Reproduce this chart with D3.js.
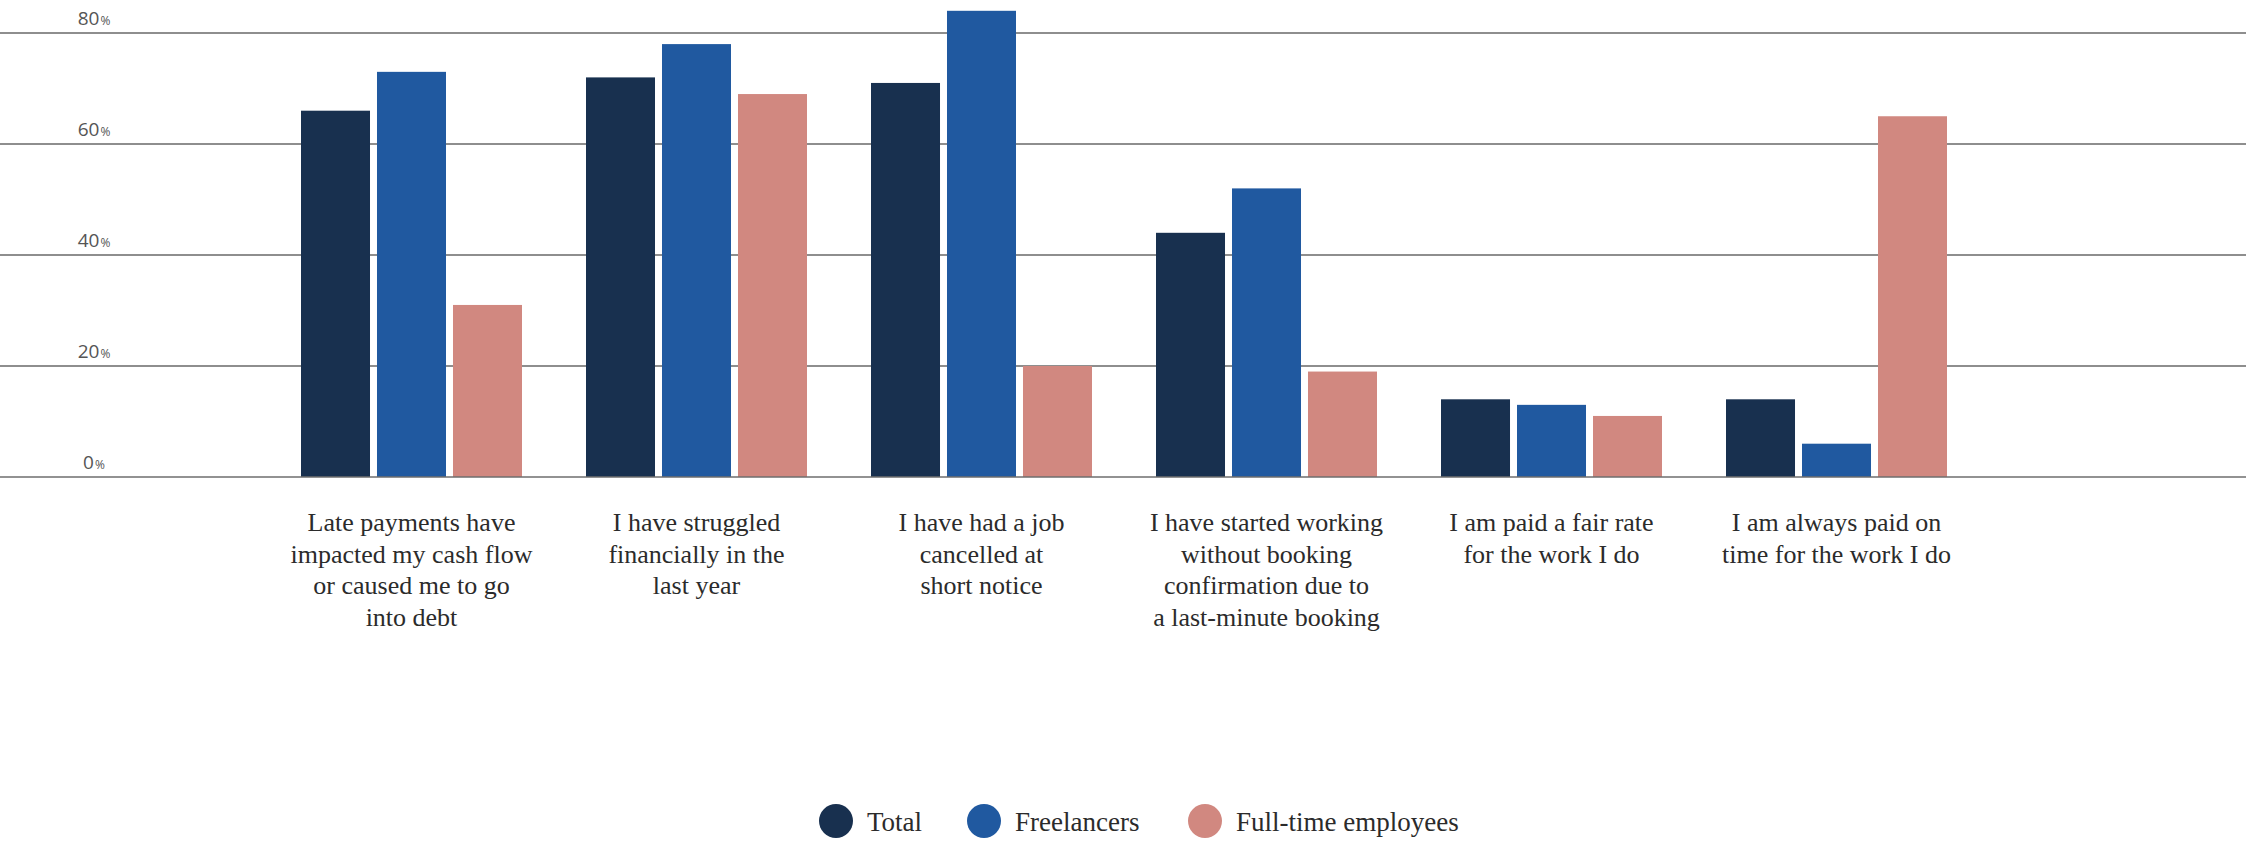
<!DOCTYPE html>
<html>
<head>
<meta charset="utf-8">
<script src="https://cdn.jsdelivr.net/npm/d3@7"></script>
<style>
  html, body { margin: 0; padding: 0; background: #ffffff; }
  svg { display: block; }
</style>
</head>
<body>
<svg id="chart" width="2246" height="841"></svg>
<script>
// Survey statements, each shown on the x axis as wrapped lines
const categories = [
  "Late payments",
  "Struggled financially",
  "Job cancelled",
  "Started without confirmation",
  "Paid a fair rate",
  "Always paid on time"
];
const categoryLines = [
  ["Late payments have", "impacted my cash flow", "or caused me to go", "into debt"],
  ["I have struggled", "financially in the", "last year"],
  ["I have had a job", "cancelled at", "short notice"],
  ["I have started working", "without booking", "confirmation due to", "a last-minute booking"],
  ["I am paid a fair rate", "for the work I do"],
  ["I am always paid on", "time for the work I do"]
];

const seriesNames = ["Total", "Freelancers", "Full-time employees"];
const seriesColors = ["#18304f", "#2059a0", "#d18880"];

// Share of respondents agreeing (%)
const totalValues      = [66, 72, 71, 44, 14, 14];
const freelancerValues = [73, 78, 84, 52, 13, 6];
const fullTimeValues   = [31, 69, 20, 19, 11, 65];
const seriesValues = [totalValues, freelancerValues, fullTimeValues];

const yTicks = [0, 20, 40, 60, 80];

const W = 2246, H = 841;
const svg = d3.select("#chart");

const y = d3.scaleLinear().domain([0, 80]).range([477, 33]);

const x0 = d3.scaleBand()
  .domain(categories)
  .range([301, 1947])
  .paddingInner(0.2246)
  .paddingOuter(0);

const x1 = d3.scaleBand()
  .domain(seriesNames)
  .range([0, x0.bandwidth()])
  .paddingInner(0.092)
  .paddingOuter(0);

// Horizontal gridlines (behind bars)
svg.append("g")
  .selectAll("line")
  .data(yTicks.filter(t => t !== 0))
  .join("line")
  .attr("x1", 0).attr("x2", W)
  .attr("y1", d => y(d)).attr("y2", d => y(d))
  .attr("stroke", "#8e8e8e")
  .attr("stroke-width", 2);

// Y tick labels: number with a smaller percent sign
const tickText = svg.append("g")
  .selectAll("text")
  .data(yTicks)
  .join("text")
  .attr("x", 94)
  .attr("y", d => y(d) - 8)
  .attr("text-anchor", "middle")
  .attr("fill", "#555")
  .attr("font-family", "'Open Sans', sans-serif")
  .attr("font-size", 19);
tickText.append("tspan").text(d => d);
tickText.append("tspan").attr("font-size", 12).attr("dx", 1).text("%");

// Bars
const groups = svg.append("g")
  .selectAll("g")
  .data(categories)
  .join("g")
  .attr("transform", d => `translate(${x0(d)},0)`);

groups.selectAll("rect")
  .data((c, ci) => seriesNames.map((s, si) => ({ s, si, v: seriesValues[si][ci] })))
  .join("rect")
  .attr("x", d => x1(d.s))
  .attr("width", x1.bandwidth())
  .attr("y", d => y(d.v))
  .attr("height", d => y(0) - y(d.v))
  .attr("fill", d => seriesColors[d.si]);

// Zero baseline drawn over the bars
svg.append("line")
  .attr("x1", 0).attr("x2", W)
  .attr("y1", y(0)).attr("y2", y(0))
  .attr("stroke", "#6e6e6e")
  .attr("stroke-opacity", 0.75)
  .attr("stroke-width", 2);

// Category labels
const labelFont = "'Liberation Serif', 'DejaVu Serif', serif";
svg.append("g")
  .selectAll("text")
  .data(categories)
  .join("text")
  .attr("text-anchor", "middle")
  .attr("fill", "#2b2b2b")
  .attr("font-family", labelFont)
  .attr("font-size", 26)
  .each(function (d, i) {
    const cx = x0(d) + x0.bandwidth() / 2;
    d3.select(this).selectAll("tspan")
      .data(categoryLines[i])
      .join("tspan")
      .attr("x", cx)
      .attr("y", (l, j) => 531 + j * 31.5)
      .text(l => l);
  });

// Legend
const legendX = [836, 984, 1205];
const legend = svg.append("g")
  .selectAll("g")
  .data(seriesNames)
  .join("g")
  .attr("transform", (d, i) => `translate(${legendX[i]},821)`);
legend.append("circle")
  .attr("r", 17)
  .attr("fill", (d, i) => seriesColors[i]);
legend.append("text")
  .attr("x", 31)
  .attr("y", 10)
  .attr("fill", "#2b2b2b")
  .attr("font-family", labelFont)
  .attr("font-size", 27)
  .text(d => d);
</script>
</body>
</html>
